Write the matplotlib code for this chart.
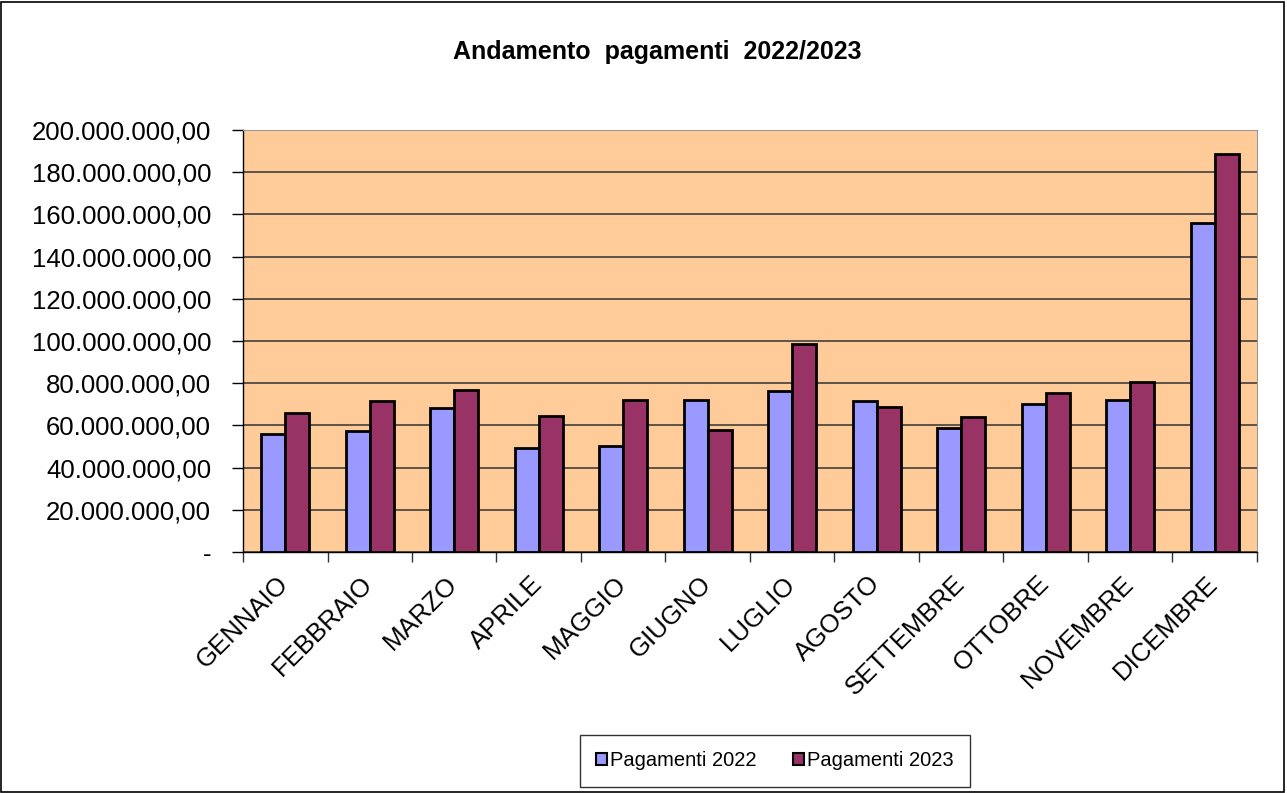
import matplotlib
matplotlib.use("Agg")
import matplotlib.pyplot as plt
from matplotlib.patches import Rectangle
from matplotlib.ticker import FuncFormatter, MultipleLocator
import numpy as np

plt.rcParams['font.family'] = ['Liberation Sans', 'DejaVu Sans']

mesi = ["GENNAIO", "FEBBRAIO", "MARZO", "APRILE", "MAGGIO", "GIUGNO",
        "LUGLIO", "AGOSTO", "SETTEMBRE", "OTTOBRE", "NOVEMBRE", "DICEMBRE"]
# valori in milioni di euro
pag_2022 = [56.1, 57.3, 68.2, 49.5, 50.1, 71.9, 76.2, 71.4, 58.8, 70.3, 71.9, 155.9]
pag_2023 = [65.9, 71.4, 76.8, 64.6, 71.9, 58.0, 98.8, 68.9, 64.0, 75.5, 80.4, 188.5]
serie = ["Pagamenti 2022", "Pagamenti 2023"]


def fmt_euro(v, pos):
    if abs(v) < 1e-6:
        return "-"
    s = f"{v * 1e6:,.2f}"
    return s.replace(",", "X").replace(".", ",").replace("X", ".")


fig = plt.figure(figsize=(12.87, 7.93), dpi=100)
fig.patches.append(Rectangle((0.0005, 0.001), 0.997, 0.997, transform=fig.transFigure,
                             fill=False, edgecolor="black", linewidth=1.2))

ax = fig.add_axes([243 / 1287, 1 - 552 / 793, (1257 - 243) / 1287, (552 - 130) / 793])
ax.set_facecolor("#FFCC99")

x = np.arange(len(mesi))
w = 0.285
ax.bar(x - w / 2, pag_2022, w, color="#9999FF", edgecolor="black", linewidth=2.0,
       label=serie[0], zorder=3)
ax.bar(x + w / 2, pag_2023, w, color="#993366", edgecolor="black", linewidth=2.0,
       label=serie[1], zorder=3)

ax.set_xlim(-0.5, len(mesi) - 0.5)
ax.set_ylim(0, 200)
ax.yaxis.set_major_locator(MultipleLocator(20))
ax.yaxis.set_major_formatter(FuncFormatter(fmt_euro))
ax.grid(axis="y", color="#333333", linewidth=1.1, zorder=1)
ax.set_axisbelow(True)

# etichette dei mesi ruotate, ancorate al centro della categoria
ax.set_xticks([])
for i, m in enumerate(mesi):
    ax.annotate(m, xy=(i, 0), xycoords=ax.get_xaxis_transform(),
                xytext=(-6.5, -14), textcoords="offset points",
                rotation=45, ha="right", va="top", rotation_mode="anchor",
                fontsize=18.5)
ax.set_xticks(np.arange(-0.5, len(mesi)), minor=True)
ax.tick_params(axis="x", which="minor", length=7, width=1, color="#333333")
ax.tick_params(axis="y", length=8, width=1, labelsize=18.5, pad=15)

for side in ["top", "right"]:
    ax.spines[side].set_color("#999999")
for side in ["left", "bottom"]:
    ax.spines[side].set_color("black")
    ax.spines[side].set_linewidth(1.0)

fig.text(0.511, 0.935, "Andamento  pagamenti  2022/2023", ha="center", va="center",
         fontsize=18, fontweight="bold")

leg = fig.legend(loc="center", bbox_to_anchor=(775 / 1287, 1 - 761 / 793), ncol=2,
                 frameon=True, fancybox=False, edgecolor="black", fontsize=14.5,
                 handlelength=0.55, handleheight=0.55, handletextpad=0.15,
                 columnspacing=1.8, borderpad=0.8, borderaxespad=0)
leg.get_frame().set_linewidth(1.0)
for h in leg.legend_handles:
    h.set_linewidth(1.5)

fig.savefig("out.png", dpi=100)
